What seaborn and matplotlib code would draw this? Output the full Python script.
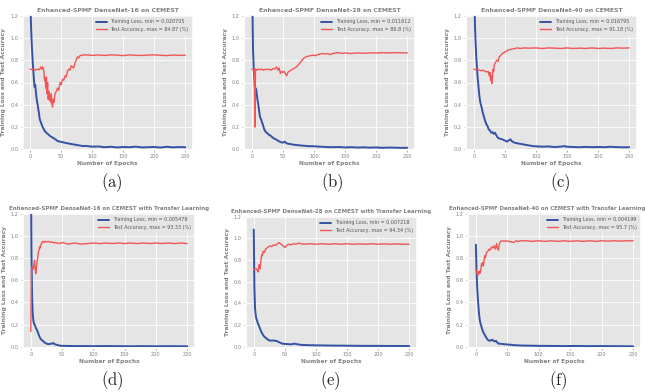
import matplotlib; matplotlib.use('Agg')
import matplotlib.pyplot as plt
import seaborn as sns

# ---- values ----
A_LOSS_EP = [0, 1, 2, 3, 4, 5, 6, 7, 8, 9, 10, 11, 12, 13, 14, 15, 16, 18, 20, 22, 24, 26, 28, 30, 32, 35, 38, 41,
             44, 48, 52, 56, 60, 65, 70, 75, 80, 85, 90, 95, 100, 110, 120, 130, 140, 150, 160, 170, 180, 190, 200,
             210, 220, 230, 240, 250]
A_LOSS = [1.60, 1.15, 1.00, 0.88, 0.78, 0.70, 0.62, 0.56, 0.58, 0.52, 0.47, 0.43, 0.40, 0.36, 0.33, 0.28, 0.26,
          0.23, 0.20, 0.18, 0.16, 0.15, 0.14, 0.13, 0.12, 0.11, 0.10, 0.09, 0.075, 0.07, 0.065, 0.06, 0.055, 0.05,
          0.045, 0.04, 0.035, 0.03, 0.032, 0.028, 0.025, 0.027, 0.02, 0.024, 0.018, 0.022, 0.02, 0.025, 0.018,
          0.02, 0.022, 0.017, 0.024, 0.019, 0.021, 0.02]
A_ACC_EP = [0, 3, 6, 9, 12, 15, 17, 19, 20, 22, 23, 24, 25, 26, 27, 28, 29, 30, 31, 32, 33, 34, 35, 36, 37, 38, 40,
            42, 44, 46, 48, 50, 52, 54, 56, 58, 60, 62, 64, 66, 68, 70, 72, 74, 76, 78, 80, 84, 88, 95, 100, 110, 120,
            130, 140, 150, 160, 170, 180, 190, 200, 210, 220, 230, 240, 250]
A_ACC = [0.72, 0.715, 0.72, 0.71, 0.72, 0.715, 0.74, 0.72, 0.74, 0.70, 0.62, 0.64, 0.55, 0.65, 0.50, 0.60, 0.45,
         0.52, 0.44, 0.48, 0.42, 0.50, 0.40, 0.38, 0.45, 0.42, 0.50, 0.52, 0.55, 0.53, 0.60, 0.58, 0.63, 0.62, 0.66,
         0.65, 0.70, 0.72, 0.71, 0.75, 0.74, 0.73, 0.77, 0.80, 0.83, 0.82, 0.84, 0.845, 0.848, 0.846, 0.843, 0.847,
         0.842, 0.848, 0.845, 0.841, 0.847, 0.844, 0.842, 0.846, 0.848, 0.844, 0.841, 0.846, 0.843, 0.845]

B_LOSS_EP = [0, 1, 2, 3, 4, 5, 6, 7, 8, 9, 10, 11, 12, 13, 14, 15, 16, 18, 20, 22, 25, 28, 31, 35, 39, 43, 47, 50,
             53, 56, 60, 65, 70, 75, 80, 90, 100, 110, 120, 130, 140, 150, 160, 170, 180, 190, 200, 210, 220, 230,
             240, 250]
B_LOSS = [1.80, 1.30, 0.90, 0.75, 0.65, 0.56, 0.55, 0.54, 0.50, 0.45, 0.42, 0.38, 0.34, 0.30, 0.28, 0.27, 0.25,
          0.22, 0.18, 0.16, 0.145, 0.13, 0.12, 0.10, 0.09, 0.075, 0.065, 0.06, 0.07, 0.055, 0.05, 0.045, 0.04,
          0.038, 0.035, 0.03, 0.028, 0.025, 0.022, 0.02, 0.022, 0.018, 0.02, 0.017, 0.019, 0.016, 0.018, 0.015,
          0.017, 0.016, 0.014, 0.015]
B_ACC_EP = [0, 2, 4, 5, 6, 8, 10, 13, 16, 19, 22, 25, 28, 31, 34, 37, 40, 42, 44, 46, 48, 50, 52, 54, 56, 58, 60,
            63, 66, 69, 72, 75, 78, 81, 84, 87, 90, 94, 98, 102, 106, 110, 115, 118, 122, 126, 130, 135, 140, 145,
            150, 160, 170, 180, 190, 200, 210, 220, 230, 240, 250]
B_ACC = [0.72, 0.715, 0.72, 0.20, 0.72, 0.71, 0.72, 0.715, 0.72, 0.71, 0.72, 0.715, 0.72, 0.71, 0.725, 0.72, 0.74,
         0.71, 0.73, 0.68, 0.70, 0.69, 0.70, 0.68, 0.66, 0.69, 0.70, 0.71, 0.72, 0.73, 0.74, 0.76, 0.78, 0.80, 0.82,
         0.83, 0.835, 0.84, 0.845, 0.84, 0.85, 0.855, 0.86, 0.855, 0.86, 0.85, 0.86, 0.865, 0.868, 0.86, 0.865,
         0.86, 0.865, 0.862, 0.866, 0.864, 0.867, 0.865, 0.868, 0.866, 0.865]

C_LOSS_EP = [0, 1, 2, 3, 4, 5, 6, 7, 8, 9, 10, 11, 12, 13, 14, 15, 16, 17, 18, 20, 22, 24, 26, 28, 30, 32, 34, 36,
             38, 40, 43, 46, 50, 53, 56, 59, 62, 66, 70, 75, 80, 85, 90, 95, 100, 110, 120, 130, 140, 145, 150,
             160, 170, 180, 190, 200, 210, 220, 230, 240, 250]
C_LOSS = [1.90, 1.35, 1.10, 0.95, 0.83, 0.74, 0.66, 0.60, 0.54, 0.48, 0.44, 0.41, 0.39, 0.37, 0.34, 0.32, 0.30,
          0.28, 0.26, 0.23, 0.21, 0.18, 0.17, 0.15, 0.155, 0.14, 0.15, 0.13, 0.11, 0.10, 0.095, 0.09, 0.08, 0.07,
          0.08, 0.09, 0.07, 0.06, 0.055, 0.05, 0.045, 0.04, 0.035, 0.03, 0.028, 0.025, 0.027, 0.022, 0.025, 0.03,
          0.024, 0.022, 0.02, 0.023, 0.02, 0.022, 0.02, 0.024, 0.021, 0.019, 0.02]
C_ACC_EP = [0, 3, 6, 9, 12, 15, 18, 21, 23, 25, 26, 27, 28, 29, 30, 31, 32, 33, 35, 37, 39, 41, 43, 46, 49, 52, 55,
            58, 62, 66, 70, 75, 80, 90, 100, 110, 120, 130, 140, 150, 160, 170, 180, 190, 200, 210, 220, 230, 240,
            250]
C_ACC = [0.72, 0.715, 0.72, 0.71, 0.705, 0.71, 0.70, 0.695, 0.70, 0.66, 0.69, 0.62, 0.66, 0.59, 0.64, 0.72, 0.70,
         0.76, 0.78, 0.80, 0.79, 0.83, 0.84, 0.86, 0.87, 0.88, 0.89, 0.895, 0.90, 0.905, 0.91, 0.905, 0.91, 0.908,
         0.91, 0.905, 0.91, 0.908, 0.905, 0.91, 0.905, 0.908, 0.905, 0.91, 0.905, 0.908, 0.905, 0.91, 0.908, 0.91]

D_LOSS_EP = [0, 1, 2, 3, 4, 5, 6, 7, 8, 10, 12, 14, 16, 18, 20, 22, 25, 28, 31, 34, 36, 38, 42, 46, 50, 60, 70, 80,
             100, 120, 140, 160, 180, 200, 220, 240, 250]
D_LOSS = [1.80, 0.85, 0.46, 0.30, 0.24, 0.21, 0.20, 0.19, 0.17, 0.15, 0.12, 0.09, 0.07, 0.06, 0.05, 0.04, 0.03,
          0.025, 0.028, 0.03, 0.035, 0.025, 0.018, 0.012, 0.01, 0.009, 0.008, 0.008, 0.007, 0.008, 0.007, 0.006,
          0.007, 0.006, 0.007, 0.006, 0.006]
D_ACC_EP = [0, 1, 2, 3, 4, 5, 6, 7, 8, 9, 10, 11, 12, 13, 14, 15, 16, 17, 18, 19, 21, 23, 25, 28, 31, 34, 37, 40,
            44, 48, 52, 56, 60, 65, 70, 75, 80, 90, 100, 110, 120, 130, 140, 150, 160, 170, 180, 190, 200, 210,
            220, 230, 240, 250]
D_ACC = [0.14, 0.70, 0.72, 0.71, 0.70, 0.74, 0.78, 0.70, 0.66, 0.72, 0.76, 0.80, 0.85, 0.87, 0.90, 0.89, 0.92,
         0.93, 0.94, 0.95, 0.94, 0.95, 0.945, 0.95, 0.94, 0.945, 0.935, 0.94, 0.93, 0.935, 0.94, 0.93, 0.925, 0.93,
         0.935, 0.93, 0.925, 0.93, 0.935, 0.93, 0.935, 0.93, 0.935, 0.93, 0.935, 0.93, 0.935, 0.93, 0.935, 0.93,
         0.935, 0.93, 0.935, 0.93]

E_LOSS_EP = [0, 1, 2, 3, 4, 5, 6, 7, 8, 10, 12, 14, 16, 18, 20, 22, 25, 28, 31, 34, 37, 40, 43, 46, 50, 55, 60, 65,
             70, 75, 80, 90, 100, 120, 140, 160, 180, 200, 220, 240, 250]
E_LOSS = [1.08, 0.55, 0.36, 0.30, 0.26, 0.25, 0.23, 0.21, 0.20, 0.17, 0.14, 0.12, 0.10, 0.09, 0.08, 0.07, 0.06,
          0.058, 0.06, 0.057, 0.055, 0.045, 0.038, 0.03, 0.028, 0.026, 0.024, 0.03, 0.025, 0.02, 0.018, 0.016,
          0.015, 0.013, 0.012, 0.011, 0.01, 0.01, 0.009, 0.009, 0.008]
E_ACC_EP = [0, 2, 4, 6, 7, 8, 9, 10, 11, 12, 13, 14, 15, 17, 19, 21, 23, 26, 29, 32, 35, 38, 41, 44, 47, 50, 53, 56,
            60, 64, 68, 72, 76, 80, 90, 100, 110, 120, 130, 140, 150, 160, 170, 180, 190, 200, 210, 220, 230, 240,
            250]
E_ACC = [0.71, 0.72, 0.72, 0.70, 0.69, 0.74, 0.76, 0.72, 0.76, 0.82, 0.85, 0.84, 0.88, 0.87, 0.90, 0.91, 0.92,
         0.93, 0.925, 0.94, 0.935, 0.95, 0.96, 0.945, 0.93, 0.915, 0.935, 0.945, 0.94, 0.95, 0.945, 0.955, 0.95,
         0.945, 0.95, 0.945, 0.95, 0.945, 0.95, 0.945, 0.95, 0.945, 0.948, 0.945, 0.95, 0.945, 0.948, 0.945,
         0.948, 0.945, 0.945]

F_LOSS_EP = [0, 1, 2, 3, 4, 5, 6, 7, 8, 9, 10, 12, 14, 16, 18, 20, 22, 24, 26, 28, 30, 32, 34, 36, 40, 45, 50, 55,
             60, 65, 70, 80, 90, 100, 120, 140, 160, 180, 200, 220, 240, 250]
F_LOSS = [0.92, 0.70, 0.55, 0.45, 0.37, 0.30, 0.25, 0.22, 0.20, 0.18, 0.16, 0.13, 0.11, 0.09, 0.07, 0.06, 0.055,
          0.06, 0.065, 0.055, 0.05, 0.055, 0.04, 0.03, 0.028, 0.025, 0.022, 0.02, 0.016, 0.015, 0.013, 0.012,
          0.011, 0.01, 0.009, 0.008, 0.009, 0.007, 0.008, 0.007, 0.006, 0.006]
F_ACC_EP = [0, 1, 2, 3, 4, 5, 6, 7, 8, 9, 10, 11, 12, 13, 14, 15, 17, 19, 21, 23, 25, 27, 29, 31, 33, 34, 36, 37,
            39, 42, 45, 48, 52, 56, 60, 64, 68, 72, 80, 90, 100, 110, 120, 130, 140, 150, 160, 170, 180, 190, 200,
            210, 220, 230, 240, 250]
F_ACC = [0.70, 0.68, 0.66, 0.64, 0.67, 0.68, 0.66, 0.67, 0.70, 0.75, 0.73, 0.76, 0.73, 0.78, 0.82, 0.80, 0.85,
         0.86, 0.88, 0.87, 0.90, 0.89, 0.91, 0.88, 0.93, 0.89, 0.87, 0.92, 0.95, 0.955, 0.95, 0.955, 0.95, 0.945,
         0.94, 0.955, 0.95, 0.955, 0.955, 0.95, 0.955, 0.95, 0.955, 0.95, 0.955, 0.95, 0.955, 0.95, 0.955, 0.95,
         0.955, 0.952, 0.955, 0.952, 0.955, 0.955]

TITLES = ['Enhanced-SPMF DenseNet-16 on CEMEST', 'Enhanced-SPMF DenseNet-28 on CEMEST',
          'Enhanced-SPMF DenseNet-40 on CEMEST',
          'Enhanced-SPMF DenseNet-16 on CEMEST with Transfer Learning',
          'Enhanced-SPMF DenseNet-28 on CEMEST with Transfer Learning',
          'Enhanced-SPMF DenseNet-40 on CEMEST with Transfer Learning']
MIN_LOSS = ['0.020705', '0.011612', '0.016795', '0.005479', '0.007218', '0.004199']
MAX_ACC = ['84.87', '86.8', '91.18', '93.33', '94.34', '95.7']
TAGS = ['(a)', '(b)', '(c)', '(d)', '(e)', '(f)']

LOSSES = [(A_LOSS_EP, A_LOSS), (B_LOSS_EP, B_LOSS), (C_LOSS_EP, C_LOSS),
          (D_LOSS_EP, D_LOSS), (E_LOSS_EP, E_LOSS), (F_LOSS_EP, F_LOSS)]
ACCS = [(A_ACC_EP, A_ACC), (B_ACC_EP, B_ACC), (C_ACC_EP, C_ACC),
        (D_ACC_EP, D_ACC), (E_ACC_EP, E_ACC), (F_ACC_EP, F_ACC)]

# panel boxes in pixels: left, top, right, bottom ; tag centre x, y
W, H = 645, 392
BOXES = [(22.5, 15, 193, 150), (244, 15, 415, 150), (466, 15, 637, 150),
         (23, 213, 195, 347.5), (246, 216, 417, 347.5), (468, 213, 641, 347.5)]
TAG_POS = [(112, 183), (332, 183), (560, 183), (112, 381), (330, 381), (558, 381)]
TITLE_FS = [4.4, 4.4, 4.4, 4.0, 4.0, 3.9]
TITLE_X = [0.5, 0.5, 0.5, 0.5, 0.5, 0.455]

BLUE, RED, GREY = '#3352a3', '#f05656', '#808080'

sns.set_theme(style='darkgrid', rc={'axes.facecolor': '#E5E5E5', 'grid.color': 'white', 'grid.linewidth': 0.6,
                                    'xtick.bottom': True, 'ytick.left': True, 'xtick.major.size': 1.5,
                                    'ytick.major.size': 1.5, 'xtick.major.width': 0.5, 'ytick.major.width': 0.5,
                                    'xtick.color': GREY, 'ytick.color': GREY, 'axes.labelcolor': GREY})
plt.rcParams['font.family'] = ['DejaVu Sans']
plt.rcParams['mathtext.fontset'] = 'cm'

fig = plt.figure(figsize=(W / 100, H / 100), dpi=100)
for i in range(6):
    l, t, r, b = BOXES[i]
    ax = fig.add_axes([l / W, 1 - b / H, (r - l) / W, (b - t) / H])
    ep, val = LOSSES[i]
    sns.lineplot(x=ep, y=val, ax=ax, color=BLUE, linewidth=1.4,
                 label='Training Loss, min = %s' % MIN_LOSS[i])
    ep, val = ACCS[i]
    sns.lineplot(x=ep, y=val, ax=ax, color=RED, linewidth=1.0,
                 label='Test Accuracy, max = %s (%%)' % MAX_ACC[i])
    ax.set_xlim(-12.5, 262.5); ax.set_ylim(-0.005, 1.205)
    ax.set_xticks([0, 50, 100, 150, 200, 250])
    ax.set_yticks([0.0, 0.2, 0.4, 0.6, 0.8, 1.0, 1.2])
    ax.set_yticklabels(['0.0', '0.2', '0.4', '0.6', '0.8', '1.0', '1.2'])
    ax.tick_params(labelsize=3.6, pad=1.5)
    ax.set_title(TITLES[i], fontsize=TITLE_FS[i], fontweight='bold', color=GREY, pad=2.5, x=TITLE_X[i])
    ax.set_xlabel('Number of Epochs', fontsize=4.2, fontweight='bold', labelpad=1.5)
    ax.set_ylabel('Training Loss and Test Accuracy', fontsize=4.3, fontweight='bold', labelpad=3)
    leg = ax.legend(loc='upper right', fontsize=3.5, facecolor='#E5E5E5', edgecolor='#E5E5E5',
                    framealpha=1, handlelength=2.2, borderpad=0.4, labelspacing=0.5)
    for txt in leg.get_texts():
        txt.set_color('#555555')
    fig.text(TAG_POS[i][0] / W, 1 - TAG_POS[i][1] / H, r'$\mathrm{%s}$' % TAGS[i],
             fontsize=12, ha='center', va='center', color='#222222')

fig.savefig('out.png', dpi=100)
